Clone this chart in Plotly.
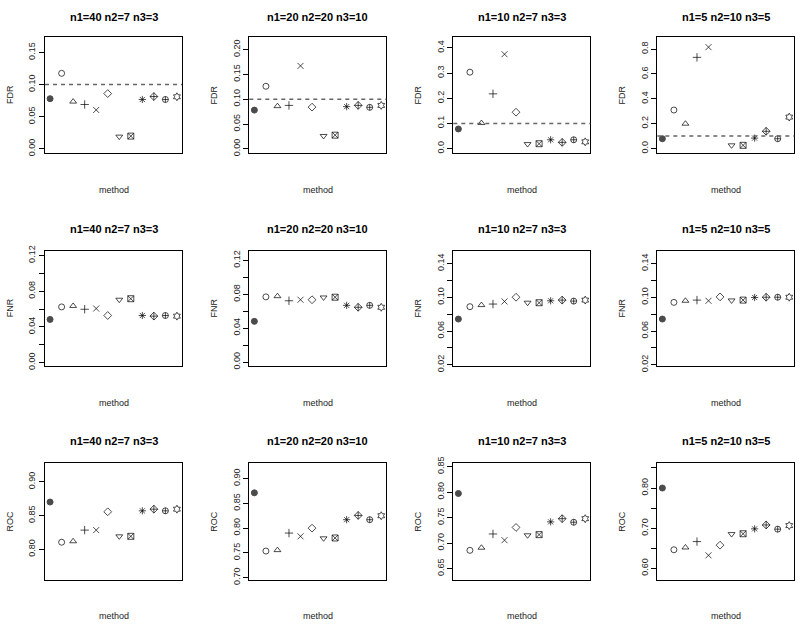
"""3x4 grid of method comparison panels (FDR / FNR / ROC) in base-R style."""
import numpy as np
import plotly.graph_objects as go

W, H = 800, 629

titles = ["n1=40 n2=7 n3=3", "n1=20 n2=20 n3=10", "n1=10 n2=7 n3=3", "n1=5 n2=10 n3=5"]
metrics = ["FDR", "FNR", "ROC"]
methods = list(range(1, 13))

# FDR per design (12 methods each; None = not drawn)
fdr_40 = [0.078, 0.1175, 0.0735, 0.069, 0.0605, 0.086, 0.019, 0.0198, 0.0768, 0.0814, 0.0768, 0.081]
fdr_20 = [0.078, 0.126, 0.086, 0.0875, 0.167, 0.084, 0.026, 0.0276, 0.085, 0.0875, 0.0836, 0.0875]
fdr_10 = [0.078, 0.3036, 0.1016, 0.2176, 0.375, 0.1446, 0.018, 0.0195, 0.035, 0.0248, 0.035, 0.027]
fdr_5 = [0.079, 0.31, 0.2, 0.734, 0.816, None, 0.026, 0.026, 0.084, 0.139, 0.079, 0.253]

# FNR
fnr_40 = [0.0484, 0.0624, 0.0635, 0.0598, 0.0606, 0.0528, 0.0705, 0.0716, 0.0528, 0.0521, 0.0528, 0.0521]
fnr_20 = [0.048, 0.0769, 0.0777, 0.0723, 0.0735, 0.0735, 0.0762, 0.0765, 0.0669, 0.0646, 0.0669, 0.0646]
fnr_10 = [0.0742, 0.0889, 0.0908, 0.092, 0.0951, 0.1001, 0.0936, 0.0936, 0.0959, 0.0967, 0.0955, 0.0967]
fnr_5 = [0.0742, 0.094, 0.0959, 0.0967, 0.0959, 0.1005, 0.0963, 0.0967, 0.0998, 0.1001, 0.1001, 0.1001]

# ROC
roc_40 = [0.870, 0.8106, 0.812, 0.8285, 0.8285, 0.8556, 0.8193, 0.8193, 0.857, 0.8594, 0.857, 0.8594]
roc_20 = [0.871, 0.7535, 0.7554, 0.7898, 0.7832, 0.7997, 0.7792, 0.7799, 0.8168, 0.8254, 0.8168, 0.8248]
roc_10 = [0.7974, 0.6859, 0.691, 0.718, 0.7058, 0.7308, 0.7154, 0.7167, 0.7417, 0.748, 0.741, 0.748]
roc_5 = [0.80, 0.6463, 0.652, 0.6667, 0.6325, 0.6577, 0.6854, 0.6862, 0.6984, 0.7081, 0.6976, 0.7065]

fdr_level = 0.1

values = [
    [fdr_40, fdr_20, fdr_10, fdr_5],
    [fnr_40, fnr_20, fnr_10, fnr_5],
    [roc_40, roc_20, roc_10, roc_5],
]

# y axis: (range lo, range hi, first tick, step, n ticks, label every, decimals)
yaxes_spec = [
    [(-0.0067, 0.1739, 0.0, 0.05, 4, 1, 2), (-0.0086, 0.225, 0.0, 0.05, 5, 1, 2),
     (-0.018, 0.443, 0.0, 0.1, 5, 1, 1), (-0.037, 0.897, 0.0, 0.2, 5, 1, 1)],
    [(-0.0037, 0.1255, 0.0, 0.02, 7, 2, 2), (-0.0046, 0.1315, 0.0, 0.02, 7, 2, 2),
     (0.0185, 0.1555, 0.02, 0.02, 7, 2, 2), (0.0185, 0.1555, 0.02, 0.02, 7, 2, 2)],
    [(0.755, 0.9275, 0.80, 0.05, 3, 1, 2), (0.6954, 0.931, 0.70, 0.05, 5, 1, 2),
     (0.628, 0.857, 0.65, 0.05, 5, 1, 2), (0.5715, 0.862, 0.60, 0.05, 6, 2, 2)],
]

symbols = ["circle", "circle-open", "triangle-up-open", "cross-thin-open", "x-thin-open",
           "diamond-open", "triangle-down-open", "square-x-open", "asterisk-open",
           "diamond-cross-open", "circle-cross-open", "hexagram-open"]
sizes = [6] + [6] * 11

# panel boxes in pixels
col_left = [45, 249.3, 453.3, 657.3]
box_w = 137
row_box = [(31.7, 150), (249.3, 367), (466, 585)]
title_y = [11, 227, 443]
xlab_y = [188, 405, 622]

FONT = "Liberation Sans, Arial, sans-serif"

fig = go.Figure()
annotations = []
shapes = []

for r in range(3):
    for c in range(4):
        k = r * 4 + c + 1
        sid = "" if k == 1 else str(k)
        x0, x1 = col_left[c], col_left[c] + box_w
        top, bot = row_box[r]

        fig.add_trace(go.Scatter(
            x=methods, y=values[r][c], mode="markers",
            xaxis="x" + sid, yaxis="y" + sid, showlegend=False,
            marker=dict(symbol=symbols, size=sizes, color="black",
                        line=dict(color="black", width=1)),
        ))

        lo, hi, t0, step, n, every, dec = yaxes_spec[r][c]
        tv = [round(t0 + i * step, 4) for i in range(n)]
        tt = [f"{v:.{dec}f}" if i % every == 0 else "" for i, v in enumerate(tv)]

        fig.layout["xaxis" + sid] = dict(
            domain=[x0 / W, x1 / W], anchor="y" + sid, range=[0.56, 12.44],
            showticklabels=False, ticks="", showgrid=False, zeroline=False,
            showline=True, linecolor="black", linewidth=1, mirror=True,
        )
        fig.layout["yaxis" + sid] = dict(
            domain=[1 - bot / H, 1 - top / H], anchor="x" + sid, range=[lo, hi],
            tickvals=tv, ticktext=tt, tickangle=-90, ticks="outside", ticklen=5,
            tickwidth=1, tickcolor="black", showgrid=False, zeroline=False,
            showline=True, linecolor="black", linewidth=1, mirror=True,
            tickfont=dict(size=9, color="#222", family=FONT),
        )

        if r == 0:
            shapes.append(dict(
                type="line", xref=f"x{sid} domain", x0=0, x1=1,
                yref="y" + sid, y0=fdr_level, y1=fdr_level,
                line=dict(color="#666", width=1.5, dash="4px,4px"),
            ))

        cx = (x0 + x1) / 2 / W
        annotations.append(dict(
            text=f"<b>{titles[c]}</b>", x=cx, y=1 - title_y[r] / H,
            xref="paper", yref="paper", showarrow=False,
            xanchor="center", yanchor="middle",
            font=dict(size=11, color="black", family=FONT),
        ))
        annotations.append(dict(
            text="method", x=cx, y=1 - xlab_y[r] / H,
            xref="paper", yref="paper", showarrow=False,
            xanchor="center", yanchor="middle",
            font=dict(size=9, color="#222", family=FONT),
        ))
        annotations.append(dict(
            text=metrics[r], x=(x0 - 35) / W, y=1 - (top + bot) / 2 / H,
            xref="paper", yref="paper", showarrow=False, textangle=-90,
            xanchor="center", yanchor="middle",
            font=dict(size=9, color="#222", family=FONT),
        ))

fig.update_layout(
    width=W, height=H, margin=dict(l=0, r=0, t=0, b=0),
    paper_bgcolor="white", plot_bgcolor="white",
    annotations=annotations, shapes=shapes,
    font=dict(family=FONT),
)

fig.write_html("out.html", config={"displayModeBar": False},
               post_script="document.body.style.margin='0';")
